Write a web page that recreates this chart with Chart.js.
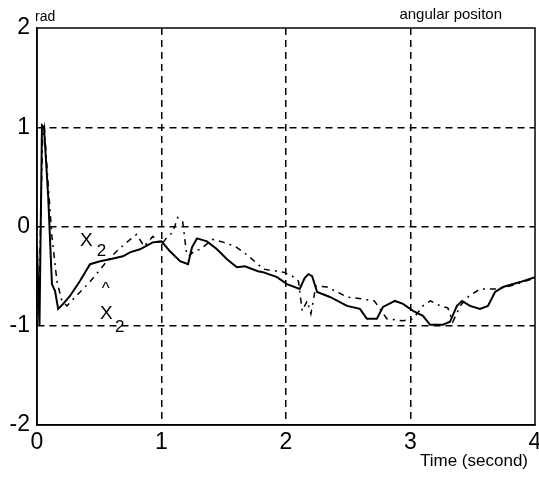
<!DOCTYPE html>
<html>
<head>
<meta charset="utf-8">
<script src="https://cdn.jsdelivr.net/npm/chart.js@4.4.1/dist/chart.umd.min.js"></script>
<style>
html, body { margin: 0; padding: 0; background: #fff; overflow: hidden; }
</style>
</head>
<body>
<canvas id="chart" width="539" height="481"></canvas>
<script>
// tick positions
const xTicks = [0, 1, 2, 3, 4];
const yTicks = [-2, -1, 0, 1, 2];

// x2 (solid line)
const x2Time = [0, 0.02, 0.04, 0.056, 0.09, 0.12, 0.145, 0.17, 0.21, 0.265, 0.345, 0.426, 0.506, 0.586, 0.69, 0.747, 0.827, 0.93, 1.0,
    1.068, 1.149, 1.213, 1.245, 1.285, 1.365, 1.446, 1.526, 1.606, 1.67, 1.775, 1.815, 1.928, 2.008, 2.11, 2.15, 2.18, 2.21, 2.25,
    2.353, 2.49, 2.594, 2.65, 2.73, 2.779, 2.875, 2.94, 3.02, 3.1, 3.157, 3.261, 3.317, 3.373, 3.414, 3.478, 3.558, 3.622, 3.679,
    3.743, 3.88, 4.0];
const x2Value = [-0.2, -1.0, 1.02, 1.0, 0.3, -0.58, -0.65, -0.83, -0.78, -0.7, -0.55, -0.38, -0.35, -0.33, -0.3, -0.26, -0.23, -0.16, -0.15,
    -0.25, -0.35, -0.38, -0.21, -0.12, -0.15, -0.23, -0.33, -0.41, -0.4, -0.45, -0.46, -0.51, -0.58, -0.63, -0.52, -0.48, -0.5, -0.66,
    -0.71, -0.8, -0.83, -0.93, -0.93, -0.81, -0.75, -0.78, -0.85, -0.9, -0.99, -0.99, -0.96, -0.8, -0.75, -0.8, -0.83, -0.8, -0.66,
    -0.61, -0.56, -0.51];

// estimated x2 (dash-dot line)
const x2HatTime = [0, 0.02, 0.045, 0.06, 0.08, 0.12, 0.16, 0.2, 0.24, 0.3, 0.37, 0.43, 0.49, 0.56, 0.64, 0.72, 0.8, 0.86, 0.93, 1.0,
    1.05, 1.09, 1.13, 1.17, 1.2, 1.22, 1.26, 1.31, 1.41, 1.5, 1.59, 1.65, 1.71, 1.82, 1.98, 2.05, 2.1, 2.13, 2.17, 2.2, 2.24, 2.33,
    2.49, 2.61, 2.71, 2.81, 2.94, 3.02, 3.1, 3.16, 3.24, 3.3, 3.34, 3.4, 3.47, 3.56, 3.62, 3.69, 3.8, 3.9, 4.0];
const x2HatValue = [-1.0, -0.5, 0.9, 1.0, 0.6, -0.1, -0.55, -0.75, -0.8, -0.72, -0.63, -0.55, -0.46, -0.35, -0.25, -0.16, -0.08, -0.2,
    -0.1, -0.18, -0.1, -0.06, 0.09, 0.05, -0.26, -0.3, -0.25, -0.23, -0.13, -0.16, -0.2, -0.25, -0.31, -0.43, -0.46, -0.5, -0.55,
    -0.85, -0.75, -0.88, -0.6, -0.61, -0.71, -0.73, -0.75, -0.93, -0.95, -0.93, -0.8, -0.75, -0.8, -0.82, -0.96, -0.8, -0.7, -0.63,
    -0.63, -0.63, -0.6, -0.56, -0.52];

function toPoints(times, values) {
    return times.map((t, i) => ({ x: t, y: values[i] }));
}

const FONT = '"Liberation Sans", Arial, sans-serif';

// solid frame, axis notes and curve labels
const notes = {
    id: 'notes',
    afterDraw(chart) {
        const { ctx, chartArea: a } = chart;
        const x = chart.scales.x, y = chart.scales.y;
        ctx.save();
        ctx.strokeStyle = '#000';
        ctx.lineWidth = 1.5;
        ctx.strokeRect(a.left, a.top, a.right - a.left, a.bottom - a.top);

        ctx.fillStyle = '#000';
        ctx.textBaseline = 'alphabetic';
        ctx.font = '14px ' + FONT;
        ctx.textAlign = 'left';
        ctx.fillText('rad', a.left - 2, a.top - 7);
        ctx.font = '15px ' + FONT;
        ctx.textAlign = 'right';
        ctx.fillText('angular positon', 502, a.top - 9);
        ctx.font = '17px ' + FONT;
        ctx.fillText('Time (second)', 528, 466);

        // curve labels, placed in data units
        ctx.textAlign = 'left';
        ctx.font = '19px ' + FONT;
        ctx.fillText('X', x.getPixelForValue(0.345), y.getPixelForValue(-0.2));
        ctx.fillText('X', x.getPixelForValue(0.506), y.getPixelForValue(-0.93));
        ctx.font = '17px ' + FONT;
        ctx.fillText('2', x.getPixelForValue(0.48), y.getPixelForValue(-0.3));
        ctx.fillText('2', x.getPixelForValue(0.627), y.getPixelForValue(-1.065));
        ctx.fillText('^', x.getPixelForValue(0.52), y.getPixelForValue(-0.68));
        ctx.restore();
    }
};

new Chart(document.getElementById('chart'), {
    type: 'line',
    data: {
        datasets: [{
            label: 'x2',
            data: toPoints(x2Time, x2Value),
            borderColor: '#000',
            borderWidth: 2,
            pointRadius: 0,
            tension: 0
        }, {
            label: 'x2 estimate',
            data: toPoints(x2HatTime, x2HatValue),
            borderColor: '#000',
            borderWidth: 1.5,
            borderDash: [6, 5, 2, 5],
            pointRadius: 0,
            tension: 0
        }]
    },
    options: {
        responsive: false,
        animation: false,
        layout: { padding: { top: 28, right: 4, left: 0, bottom: 0 } },
        plugins: {
            legend: { display: false },
            tooltip: { enabled: false }
        },
        scales: {
            x: {
                type: 'linear',
                min: 0,
                max: 4,
                afterBuildTicks: s => { s.ticks = xTicks.map(v => ({ value: v })); },
                afterFit: s => { s.height = 56; s.paddingLeft = 0; s.paddingRight = 0; },
                ticks: { color: '#000', font: { family: FONT, size: 23 }, padding: 4, maxRotation: 0 },
                grid: {
                    drawTicks: false,
                    lineWidth: 1.5,
                    color: c => (c.tick && (c.tick.value === 0 || c.tick.value === 4)) ? 'rgba(0,0,0,0)' : '#000'
                },
                border: { color: '#000', width: 1.5, dash: [7, 5] }
            },
            y: {
                min: -2,
                max: 2,
                afterBuildTicks: s => { s.ticks = yTicks.map(v => ({ value: v })); },
                afterFit: s => { s.width = 37; s.paddingTop = 0; s.paddingBottom = 0; },
                ticks: { color: '#000', font: { family: FONT, size: 23 }, padding: 7 },
                grid: {
                    drawTicks: false,
                    lineWidth: 1.5,
                    color: c => (c.tick && (c.tick.value === 2 || c.tick.value === -2)) ? 'rgba(0,0,0,0)' : '#000'
                },
                border: { color: '#000', width: 1.5, dash: [7, 5] }
            }
        }
    },
    plugins: [notes]
});
</script>
</body>
</html>
